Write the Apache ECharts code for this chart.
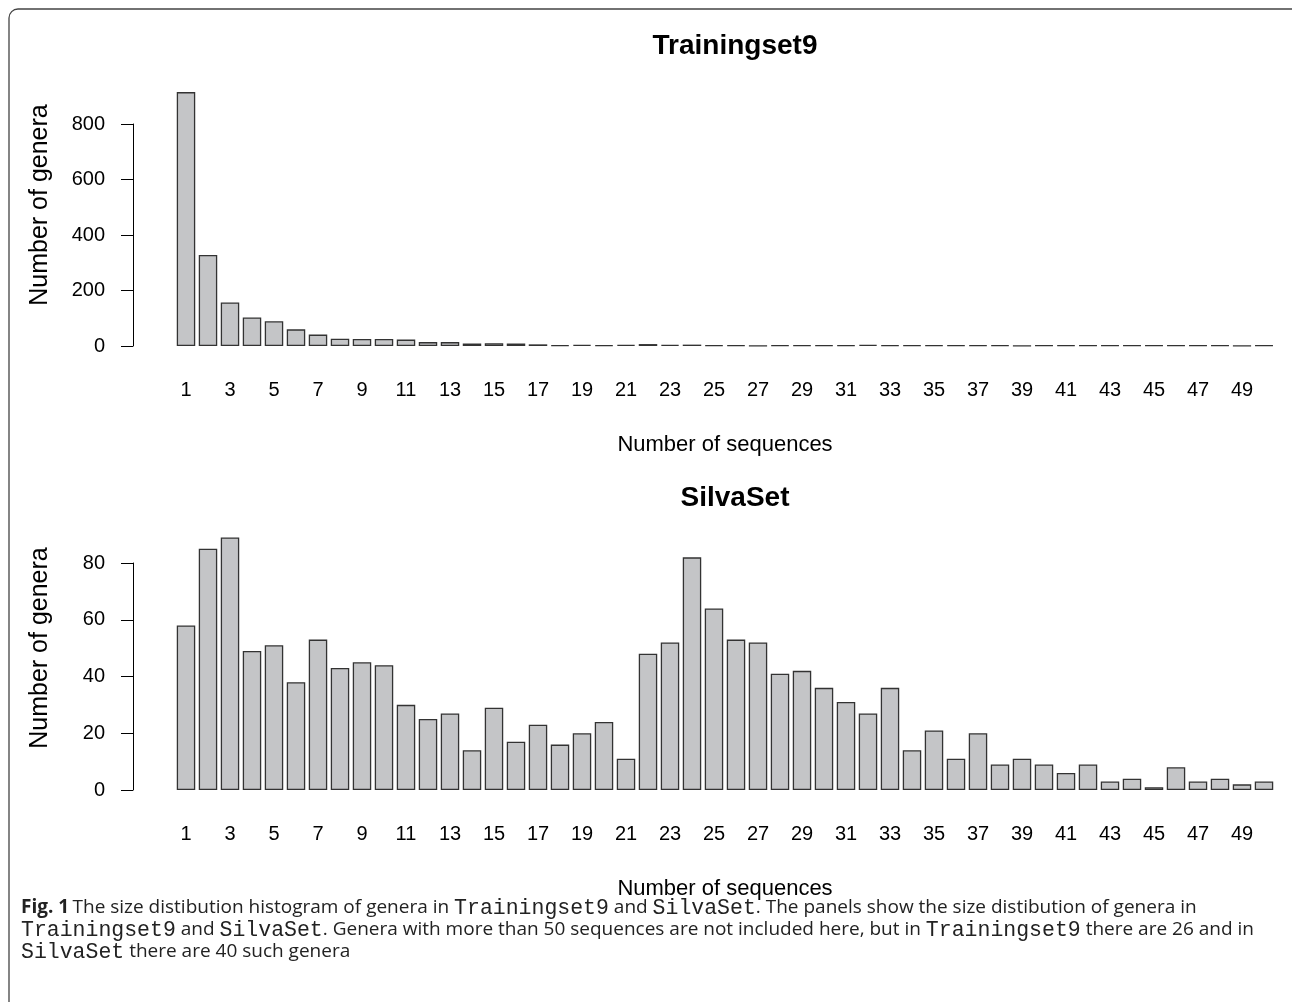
<!DOCTYPE html>
<html>
<head>
<meta charset="utf-8">
<script src="https://cdn.jsdelivr.net/npm/echarts@6/dist/echarts.min.js"></script>
<style>
html,body{margin:0;padding:0;background:#fff;}
#chart{width:1292px;height:1002px;}
</style>
</head>
<body>
<div id="chart"></div>
<script>
const categories = ['1','2','3','4','5','6','7','8','9','10','11','12','13','14','15','16','17','18','19','20','21','22','23','24','25','26','27','28','29','30','31','32','33','34','35','36','37','38','39','40','41','42','43','44','45','46','47','48','49','50'];
const trainingset9 = [915,328,157,103,89,60,41,26,25,25,23,14,14,9,10,9,6,3,4,3,4,7,4,5,3,3,1,3,3,3,3,4,3,3,3,3,3,3,1,2,3,2,2,2,2,2,2,2,1,2];
const silvaSet = [58,85,89,49,51,38,53,43,45,44,30,25,27,14,29,17,23,16,20,24,11,48,52,82,64,53,52,41,42,36,31,27,36,14,21,11,20,9,11,9,6,9,3,4,1,8,3,4,2,3];
const topTicks = [0,200,400,600,800];
const bottomTicks = [0,20,40,60,80];
const titles = ['Trainingset9','SilvaSet'];

const FONT = "'Liberation Sans', Arial, sans-serif";
const chart = echarts.init(document.getElementById('chart'), null, {renderer:'canvas'});

function yAxisCfg(gi, ticks){
  return {
    type:'value', gridIndex:gi, min:ticks[0], max:ticks[ticks.length-1],
    interval:ticks[1]-ticks[0], offset:42,
    axisLine:{show:true,lineStyle:{color:'#000',width:1}},
    axisTick:{show:true,length:12,lineStyle:{color:'#000',width:1}},
    axisLabel:{fontFamily:FONT,fontSize:20,color:'#000',margin:28},
    splitLine:{show:false}
  };
}
function xAxisCfg(gi){
  return {
    type:'category', gridIndex:gi, data:categories,
    name:'Number of sequences', nameLocation:'middle', nameGap:88,
    nameTextStyle:{fontFamily:FONT,fontSize:22,color:'#000'},
    axisLine:{show:false}, axisTick:{show:false},
    axisLabel:{interval:1,fontFamily:FONT,fontSize:20,color:'#000',margin:34}
  };
}
const barStyle = {color:'#c4c5c7',borderColor:'#333',borderWidth:1.3};
const SANS = "'Open Sans',sans-serif";
const MONO = "'Liberation Mono','DejaVu Sans Mono',monospace";

chart.setOption({
  animation:false,
  backgroundColor:'#fff',
  title:[
    {text:titles[0],left:730,top:27,textAlign:'center',textStyle:{fontFamily:FONT,fontSize:28,fontWeight:'bold',color:'#000'}},
    {text:titles[1],left:730,top:479,textAlign:'center',textStyle:{fontFamily:FONT,fontSize:28,fontWeight:'bold',color:'#000'}}
  ],
  grid:[
    {left:175,width:1100,top:124,height:222},
    {left:175,width:1100,top:563,height:227}
  ],
  xAxis:[xAxisCfg(0),xAxisCfg(1)],
  yAxis:[yAxisCfg(0,topTicks),yAxisCfg(1,bottomTicks)],
  series:[
    {type:'bar',xAxisIndex:0,yAxisIndex:0,data:trainingset9,barCategoryGap:'16%',clip:false,itemStyle:barStyle},
    {type:'bar',xAxisIndex:1,yAxisIndex:1,data:silvaSet,barCategoryGap:'16%',clip:false,itemStyle:barStyle}
  ],
  graphic:[
    {type:'rect',shape:{x:9,y:9,width:1400,height:1100,r:[9,0,0,0]},style:{fill:'none',stroke:'#444',lineWidth:1.3},silent:true},
    {type:'text',x:40,y:205,rotation:Math.PI/2,style:{text:'Number of genera',font:"25px 'Liberation Sans', Arial, sans-serif",fill:'#000',textAlign:'center',textVerticalAlign:'middle'}},
    {type:'text',x:40,y:648,rotation:Math.PI/2,style:{text:'Number of genera',font:"25px 'Liberation Sans', Arial, sans-serif",fill:'#000',textAlign:'center',textVerticalAlign:'middle'}},
    {type:'text',left:21,top:897,style:{
      text:'{b|Fig. 1} {n|The size distibution histogram of genera in }{m|Trainingset9}{n| and }{m|SilvaSet}{n|. The panels show the size distibution of genera in}\n{m|Trainingset9}{n| and }{m|SilvaSet}{n|. Genera with more than 50 sequences are not included here, but in }{m|Trainingset9}{n| there are 26 and in}\n{m|SilvaSet}{n| there are 40 such genera}',
      rich:{
        b:{fontFamily:SANS,fontWeight:'bold',fontSize:19,fill:'#222',lineHeight:22},
        n:{fontFamily:SANS,fontSize:19,fill:'#222',lineHeight:22},
        m:{fontFamily:MONO,fontSize:21.5,fill:'#222',lineHeight:22}
      }
    }}
  ]
});
</script>
</body>
</html>
